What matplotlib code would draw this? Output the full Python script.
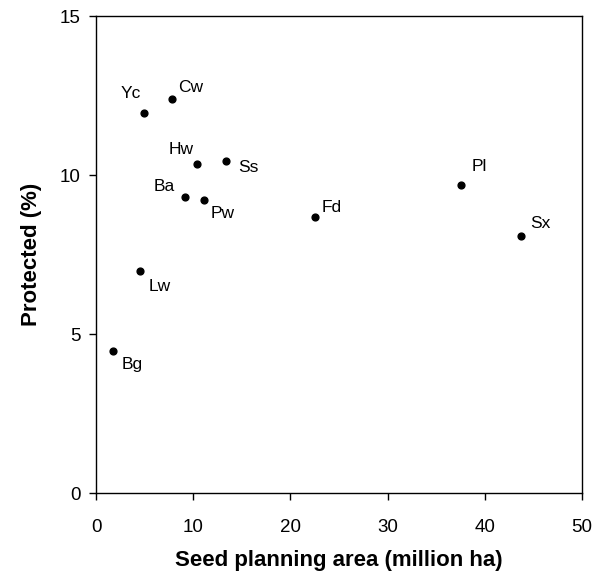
import matplotlib
matplotlib.use("Agg")
import matplotlib.pyplot as plt

plt.rcParams['font.family'] = ['Liberation Sans', 'DejaVu Sans']

# species codes, seed planning area (million ha), protected (%)
species = ["Yc", "Cw", "Hw", "Ss", "Ba", "Pw", "Pl", "Fd", "Sx", "Bg", "Lw"]
area = [4.9, 7.8, 10.4, 13.4, 9.2, 11.1, 37.5, 22.5, 43.7, 1.8, 4.5]
protected = [11.96, 12.38, 10.36, 10.45, 9.31, 9.22, 9.69, 8.67, 8.09, 4.47, 6.99]

# label offsets in pixels (dx, dy), screen up is positive
offsets = {
    "Yc": (-13, 19), "Cw": (19, 12), "Hw": (-16, 14), "Ss": (22, -7),
    "Ba": (-21, 10), "Pw": (19, -14), "Pl": (19, 18), "Fd": (17, 10),
    "Sx": (20, 12), "Bg": (19, -14), "Lw": (20, -16),
}

fig = plt.figure(figsize=(6.03, 5.74), dpi=100)
ax = fig.add_axes([96 / 603, 1 - 493 / 574, 486 / 603, 477 / 574])

ax.scatter(area, protected, s=24, color="black", zorder=3)
for name, x, y in zip(species, area, protected):
    dx, dy = offsets[name]
    ax.annotate(name, (x, y), xytext=(dx, dy), textcoords="offset pixels",
                ha="center", va="center", fontsize=12.5)

ax.set_xlim(0, 50)
ax.set_ylim(0, 15)
ax.set_xticks([0, 10, 20, 30, 40, 50])
ax.set_yticks([0, 5, 10, 15])
ax.tick_params(direction="out", length=5, width=1, labelsize=13.5)
ax.tick_params(axis="x", pad=13.5)
ax.tick_params(axis="y", pad=6)
for s in ax.spines.values():
    s.set_linewidth(1)

ax.set_xlabel("Seed planning area (million ha)", fontsize=16, fontweight="bold", labelpad=10)
ax.set_ylabel("Protected (%)", fontsize=16, fontweight="bold", labelpad=13)

fig.savefig("out.png", dpi=100)
